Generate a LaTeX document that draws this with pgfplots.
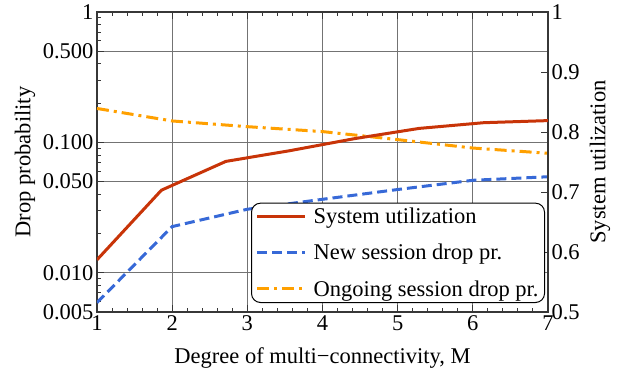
\documentclass[border=0pt]{standalone}
\usepackage{fontspec}
\setmainfont{Liberation Serif}
\usepackage{pgfplots}
\pgfplotsset{compat=1.18}
\definecolor{cred}{RGB}{200,52,8}
\definecolor{cblue}{RGB}{55,105,215}
\definecolor{corange}{RGB}{255,160,0}
\definecolor{cgrid}{RGB}{115,115,115}
\definecolor{cframe}{RGB}{55,55,55}
\begin{document}
\begin{tikzpicture}
\pgfplotsset{
  every axis/.append style={font=\fontsize{22.5}{27}\selectfont},
  /pgf/number format/assume math mode=true,
  legend image code/.code={\draw[#1] (0pt,0pt) -- (48pt,0pt); \path (53pt,0pt);},
}
\begin{axis}[name=ax1,
  scale only axis, width=451pt, height=300pt,
  xmin=1, xmax=7, ymode=log, ymin=0.005, ymax=1,
  xtick={1,2,3,4,5,6,7}, minor x tick num=4,
  xtick pos=both, xticklabel pos=lower,
  ytick pos=left,
  ytick={0.005,0.01,0.05,0.1,0.5,1},
  yticklabels={0.005,0.010,0.050,0.100,0.500,1},
  minor ytick={0.006,0.007,0.008,0.009,0.02,0.03,0.04,0.06,0.07,0.08,0.09,0.2,0.3,0.4,0.6,0.7,0.8,0.9},
  tick align=inside,
  grid=major, major grid style={cgrid, line width=1pt},
  axis line style={cframe, line width=1.2pt},
  tick style={cframe, line width=1pt},
  major tick length=7pt, minor tick length=4pt,
  xlabel={Degree of multi−connectivity, M},
  ylabel={Drop probability},
  xlabel style={at={(axis description cs:0.5,-0.153)}, anchor=center},
  ylabel style={at={(axis description cs:-0.1596,0.5)}, anchor=center},
]
\addplot[cblue, line width=3pt, dash pattern=on 10pt off 5pt] coordinates {
  (1,0.0059) (2,0.0226) (3,0.0307) (4,0.0366) (5,0.0435) (6,0.0512) (7,0.0545)};
\addplot[corange, line width=3pt, dash pattern=on 12pt off 5pt on 3pt off 5pt] coordinates {
  (1,0.182) (2,0.146) (3,0.132) (4,0.121) (5,0.105) (6,0.0905) (7,0.0825)};
\end{axis}
\begin{axis}[
  scale only axis, width=451pt, height=300pt,
  xmin=1, xmax=7, ymin=0.5, ymax=1,
  axis x line=none, axis y line*=right,
  ytick={0.5,0.6,0.7,0.8,0.9,1},
  yticklabels={0.5,0.6,0.7,0.8,0.9,1},
  tick align=inside,
  axis line style={cframe, line width=1.2pt},
  tick style={cframe, line width=1pt},
  major tick length=7pt,
  ylabel={System utilization},
  ylabel style={at={(axis description cs:1.1153,0.5)}, anchor=center},
  legend style={at={(axis description cs:0.9934,0.03)}, anchor=south east,
    draw=black, line width=1pt, rounded corners=9pt, fill=white,
    font=\fontsize{22.5}{27}\selectfont, row sep=15pt,
    inner xsep=4pt, inner ysep=3pt},
  legend cell align=left,
]
\addplot[cred, line width=3pt] coordinates {
  (1,0.587) (1.857,0.703) (2.714,0.751) (3.571,0.769) (4.429,0.789) (5.286,0.806) (6.143,0.8155) (7,0.819)};
\addlegendentry{System utilization}
\addlegendimage{cblue, line width=3pt, dash pattern=on 10pt off 5pt}
\addlegendentry{New session drop pr.}
\addlegendimage{corange, line width=3pt, dash pattern=on 12pt off 5pt on 3pt off 5pt}
\addlegendentry{Ongoing session drop pr.}
\end{axis}
\path (ax1.south west) ++(-97pt,-64pt) rectangle ++(622pt,376pt);
\end{tikzpicture}
\end{document}
